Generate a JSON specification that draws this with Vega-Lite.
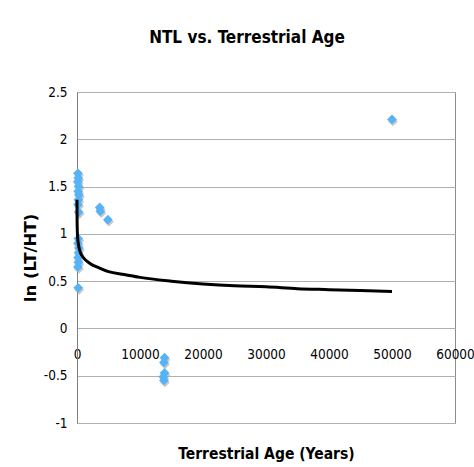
{
  "$schema": "https://vega.github.io/schema/vega-lite/v6.json",
  "width": 378,
  "height": 331,
  "autosize": "none",
  "padding": {"left": 77, "top": 92, "right": 19, "bottom": 44},
  "background": "white",
  "title": {
    "text": "NTL vs. Terrestrial Age",
    "font": "DejaVu Sans Condensed",
    "fontSize": 17,
    "fontWeight": "bold",
    "color": "black",
    "anchor": "middle",
    "dx": -19,
    "offset": 38
  },
  "datasets": {
    "obs": [
      {"age": 150, "val": 1.64}, {"age": 200, "val": 1.59}, {"age": 120, "val": 1.55},
      {"age": 250, "val": 1.5}, {"age": 180, "val": 1.45}, {"age": 300, "val": 1.41},
      {"age": 220, "val": 1.36}, {"age": 160, "val": 1.31}, {"age": 260, "val": 1.23},
      {"age": 200, "val": 0.95}, {"age": 150, "val": 0.9}, {"age": 300, "val": 0.85},
      {"age": 250, "val": 0.8}, {"age": 180, "val": 0.75}, {"age": 220, "val": 0.7},
      {"age": 140, "val": 0.65}, {"age": 200, "val": 0.43},
      {"age": 3600, "val": 1.28}, {"age": 3700, "val": 1.24}, {"age": 4900, "val": 1.15},
      {"age": 13900, "val": -0.31}, {"age": 13800, "val": -0.36}, {"age": 13900, "val": -0.47},
      {"age": 13700, "val": -0.51}, {"age": 13800, "val": -0.55},
      {"age": 50000, "val": 2.21}
    ],
    "trend": [
      {"age": 1, "val": 1.36}, {"age": 5, "val": 1.24}, {"age": 20, "val": 1.12},
      {"age": 50, "val": 1.03}, {"age": 100, "val": 0.96}, {"age": 250, "val": 0.88},
      {"age": 500, "val": 0.81}, {"age": 1000, "val": 0.75}, {"age": 2000, "val": 0.69},
      {"age": 3500, "val": 0.64}, {"age": 5000, "val": 0.6}, {"age": 7500, "val": 0.57},
      {"age": 10000, "val": 0.54}, {"age": 15000, "val": 0.5}, {"age": 20000, "val": 0.47},
      {"age": 25000, "val": 0.45}, {"age": 30000, "val": 0.44}, {"age": 35000, "val": 0.42},
      {"age": 40000, "val": 0.41}, {"age": 45000, "val": 0.4}, {"age": 50000, "val": 0.39}
    ]
  },
  "config": {
    "view": {"stroke": "#8c8c8c", "strokeWidth": 1},
    "axis": {
      "labelFont": "DejaVu Sans Condensed",
      "labelFontSize": 13.5,
      "labelColor": "black",
      "titleColor": "black"
    }
  },
  "layer": [
    {
      "data": {"name": "obs"},
      "mark": {"type": "point", "shape": "diamond", "filled": true, "size": 95, "color": "#9a9a9a", "opacity": 0.55, "xOffset": 1, "yOffset": 2},
      "encoding": {
        "x": {
          "field": "age", "type": "quantitative",
          "scale": {"domain": [0, 60000], "nice": false, "zero": false},
          "axis": {
            "offset": -94.5,
            "values": [0, 10000, 20000, 30000, 40000, 50000, 60000],
            "format": "d",
            "grid": false, "ticks": false, "domain": false,
            "labelPadding": 19, "labelFlush": false,
            "title": "Terrestrial Age (Years)",
            "titleFont": "DejaVu Sans Condensed",
            "titleFontSize": 15.5,
            "titleFontWeight": "bold",
            "titleX": 189, "titleY": 125, "titleBaseline": "middle", "titleAlign": "center"
          }
        },
        "y": {
          "field": "val", "type": "quantitative",
          "scale": {"domain": [-1, 2.5], "nice": false, "zero": false},
          "axis": {
            "values": [-1, -0.5, 0, 0.5, 1, 1.5, 2, 2.5],
            "labelExpr": "'' + datum.value",
            "grid": true, "gridColor": "#b0b0b0", "gridWidth": 1,
            "domain": true, "domainColor": "#808080", "ticks": false,
            "labelPadding": 10,
            "title": "ln (LT/HT)",
            "titleFont": "DejaVu Sans",
            "titleFontSize": 16.5,
            "titleFontWeight": "bold",
            "titleAngle": -90,
            "titleX": -47, "titleY": 165.5, "titleBaseline": "middle", "titleAlign": "center"
          }
        }
      }
    },
    {
      "data": {"name": "obs"},
      "mark": {"type": "point", "shape": "diamond", "filled": true, "size": 95, "color": "#55b3f6", "opacity": 1},
      "encoding": {
        "x": {"field": "age", "type": "quantitative"},
        "y": {"field": "val", "type": "quantitative"}
      }
    },
    {
      "data": {"name": "trend"},
      "mark": {"type": "line", "color": "black", "strokeWidth": 3, "interpolate": "monotone"},
      "encoding": {
        "x": {"field": "age", "type": "quantitative"},
        "y": {"field": "val", "type": "quantitative"}
      }
    }
  ]
}
